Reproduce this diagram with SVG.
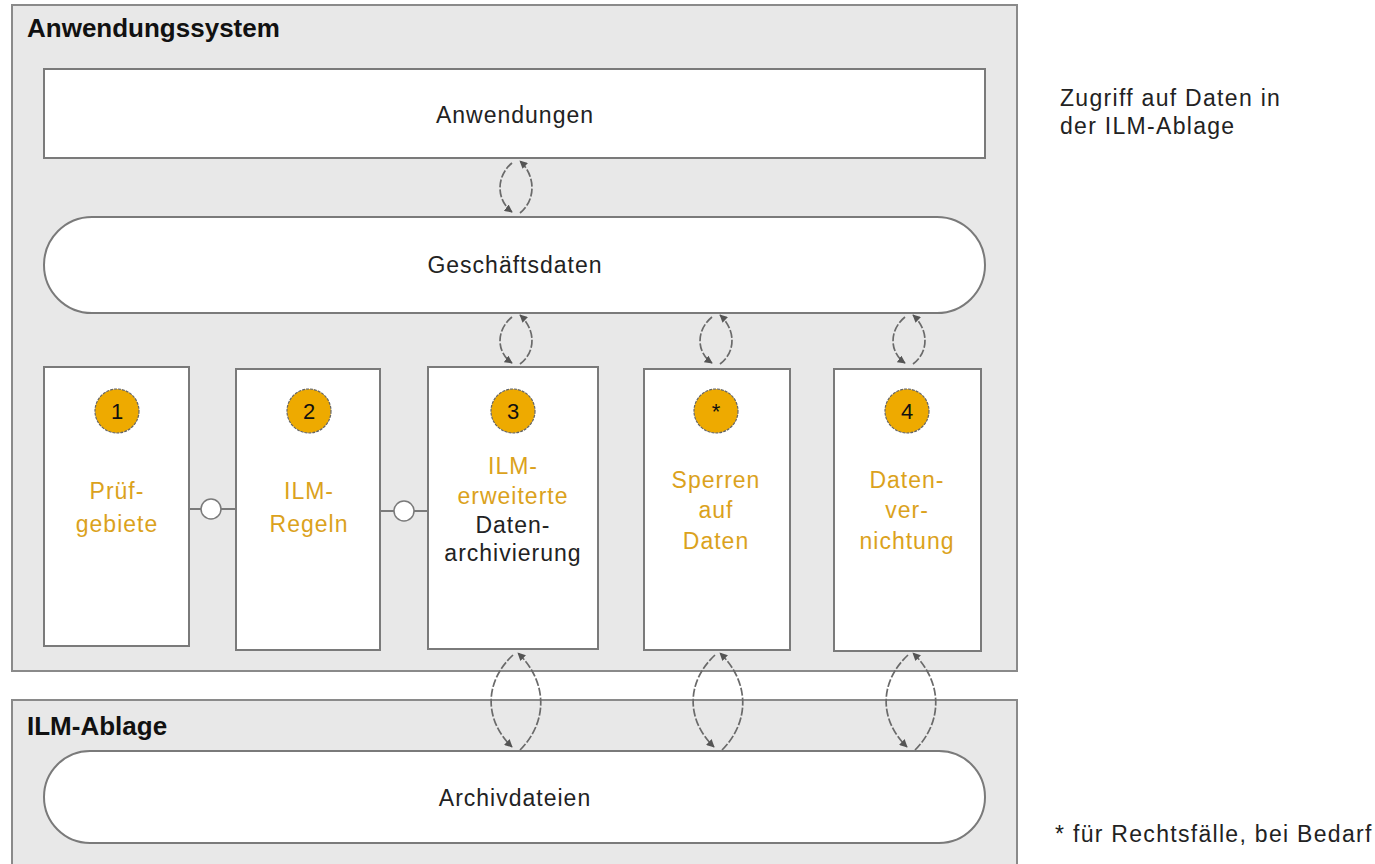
<svg xmlns="http://www.w3.org/2000/svg" width="1375" height="864" viewBox="0 0 1375 864">
<defs>
<marker id="ah" viewBox="0 0 10 10" refX="9" refY="5" markerWidth="8" markerHeight="8" orient="auto" markerUnits="userSpaceOnUse">
<path d="M0,0 L10,5 L0,10 z" fill="#555"/>
</marker>
<style>
.frame{fill:#e8e8e8;stroke:#8a8a8a;stroke-width:2}
.node{fill:#fff;stroke:#7a7a7a;stroke-width:2}
.title{font-family:"Liberation Sans",Arial,sans-serif;font-weight:bold;font-size:26px;fill:#111}
.lbl{font-family:"Liberation Sans",Arial,sans-serif;font-size:23px;letter-spacing:1px;fill:#222;text-anchor:middle}
.or{fill:#dba21c}
.note{font-family:"Liberation Sans",Arial,sans-serif;font-size:23px;letter-spacing:1.3px;fill:#222}
.badge{fill:#eeaa00;stroke:#666;stroke-width:1.2;stroke-dasharray:3 1}
.num{font-family:"Liberation Sans",Arial,sans-serif;font-size:22px;fill:#111;text-anchor:middle}
.arc{fill:none;stroke:#6a6a6a;stroke-width:1.7;stroke-dasharray:8 2;marker-end:url(#ah)}
.link{stroke:#7a7a7a;stroke-width:2}
.dot{fill:#fff;stroke:#7a7a7a;stroke-width:1.5}
</style>
</defs>
<rect width="1375" height="864" fill="#fff"/>

<g id="anwendungssystem">
<rect class="frame" x="12" y="5" width="1005" height="666"/>
<text class="title" x="27" y="37">Anwendungssystem</text>
</g>
<g id="ilm-ablage">
<rect class="frame" x="12" y="700" width="1005" height="170"/>
<text class="title" x="27" y="735">ILM-Ablage</text>
</g>

<g id="anwendungen">
<rect class="node" x="44" y="69" width="941" height="89"/>
<text class="lbl" x="515" y="123">Anwendungen</text>
</g>
<g id="geschaeftsdaten">
<rect class="node" x="44" y="217" width="941" height="96" rx="48" ry="48"/>
<text class="lbl" x="515" y="273">Geschäftsdaten</text>
</g>
<g id="archivdateien">
<rect class="node" x="44" y="751" width="941" height="92" rx="46" ry="46"/>
<text class="lbl" x="515" y="806">Archivdateien</text>
</g>

<g id="pruefgebiete">
<rect class="node" x="44" y="367" width="145" height="279"/>
<circle class="badge" cx="117" cy="411" r="22"/>
<text class="num" x="117" y="419">1</text>
<text class="lbl or" x="117" y="499">Prüf-</text>
<text class="lbl or" x="117" y="532">gebiete</text>
</g>
<g id="ilm-regeln">
<rect class="node" x="236" y="369" width="144" height="281"/>
<circle class="badge" cx="309" cy="411" r="22"/>
<text class="num" x="309" y="419">2</text>
<text class="lbl or" x="309" y="499">ILM-</text>
<text class="lbl or" x="309" y="532">Regeln</text>
</g>
<g id="datenarchivierung">
<rect class="node" x="428" y="367" width="170" height="282"/>
<circle class="badge" cx="513" cy="411" r="22"/>
<text class="num" x="513" y="419">3</text>
<text class="lbl or" x="513" y="474">ILM-</text>
<text class="lbl or" x="513" y="504">erweiterte</text>
<text class="lbl" x="513" y="533">Daten-</text>
<text class="lbl" x="513" y="561">archivierung</text>
</g>
<g id="sperren">
<rect class="node" x="644" y="369" width="146" height="281"/>
<circle class="badge" cx="716" cy="411" r="22"/>
<text class="num" x="716" y="419">*</text>
<text class="lbl or" x="716" y="488">Sperren</text>
<text class="lbl or" x="716" y="518">auf</text>
<text class="lbl or" x="716" y="549">Daten</text>
</g>
<g id="datenvernichtung">
<rect class="node" x="834" y="369" width="147" height="282"/>
<circle class="badge" cx="907" cy="411" r="22"/>
<text class="num" x="907" y="419">4</text>
<text class="lbl or" x="907" y="488">Daten-</text>
<text class="lbl or" x="907" y="518">ver-</text>
<text class="lbl or" x="907" y="549">nichtung</text>
</g>

<g id="connectors">
<line class="link" x1="189" y1="509" x2="236" y2="509"/>
<circle class="dot" cx="211" cy="509" r="10"/>
<line class="link" x1="380" y1="511" x2="428" y2="511"/>
<circle class="dot" cx="404" cy="511" r="10"/>

<path class="arc" d="M512,163 C496,176 496,200 512,212"/>
<path class="arc" d="M520,213 C536,200 536,176 520,161"/>

<path class="arc" d="M512,317 C496,330 496,352 512,363"/>
<path class="arc" d="M520,364 C536,352 536,330 520,315"/>
<path class="arc" d="M712,317 C696,330 696,352 712,363"/>
<path class="arc" d="M720,364 C736,352 736,330 720,315"/>
<path class="arc" d="M905,317 C889,330 889,352 905,363"/>
<path class="arc" d="M913,364 C929,352 929,330 913,315"/>

<path class="arc" d="M513,655 C484,682 484,720 512,747"/>
<path class="arc" d="M520,750 C548,722 548,682 518,653"/>
<path class="arc" d="M715,655 C686,682 686,720 714,747"/>
<path class="arc" d="M722,750 C750,722 750,682 720,653"/>
<path class="arc" d="M908,655 C879,682 879,720 907,747"/>
<path class="arc" d="M915,750 C943,722 943,682 913,653"/>
</g>

<g id="notes">
<text class="note" x="1060" y="106">Zugriff auf Daten in</text>
<text class="note" x="1060" y="134">der ILM-Ablage</text>
<text class="note" x="1055" y="842">* für Rechtsfälle, bei Bedarf</text>
</g>
</svg>
